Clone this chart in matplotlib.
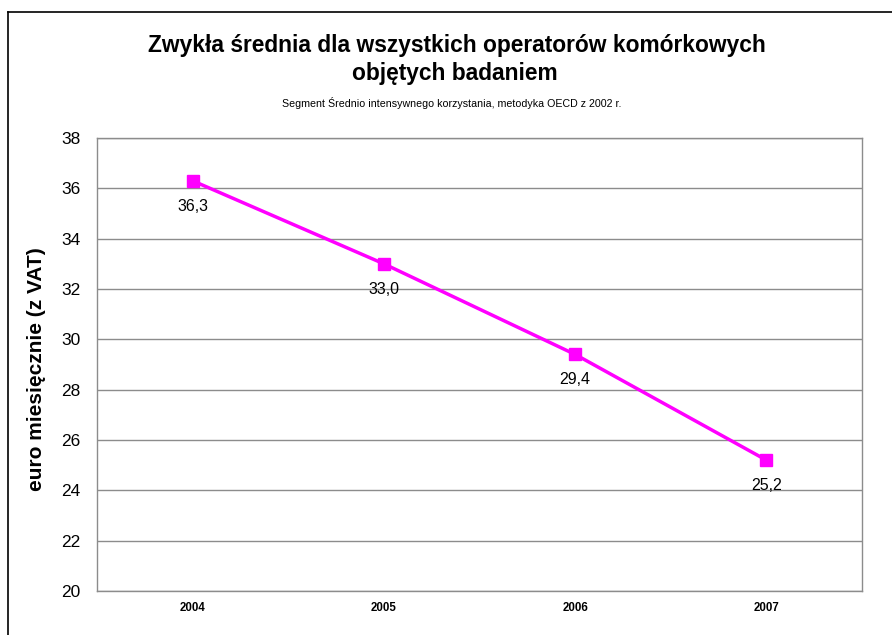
import matplotlib.pyplot as plt
from matplotlib.lines import Line2D

plt.rcParams['font.family'] = ['Liberation Sans', 'DejaVu Sans']

# dane z wykresu
lata = ['2004', '2005', '2006', '2007']
wartosci = [36.3, 33.0, 29.4, 25.2]
etykiety = ['36,3', '33,0', '29,4', '25,2']
y_ticks = [20, 22, 24, 26, 28, 30, 32, 34, 36, 38]

W, H = 892, 635
fig = plt.figure(figsize=(W / 100, H / 100), dpi=100)
ax = fig.add_axes([97 / W, 1 - 591 / H, 765 / W, 453 / H])

x = list(range(len(lata)))
ax.plot(x, wartosci, color='#FF00FF', linewidth=2.5, marker='s',
        markersize=9, markerfacecolor='#FF00FF', markeredgecolor='#FF00FF')

for xi, v, lab in zip(x, wartosci, etykiety):
    ax.annotate(lab, (xi, v), xytext=(0, -13), textcoords='offset points',
                ha='center', va='top', fontsize=11.5)

ax.set_xlim(-0.5, len(lata) - 0.5)
ax.set_ylim(20, 38)
ax.set_yticks(y_ticks)
ax.set_yticklabels([str(t) for t in y_ticks], fontsize=12.5)
ax.set_xticks(x)
ax.set_xticklabels(lata, fontsize=8.3, fontweight='bold')
ax.tick_params(axis='y', length=0, pad=12)
ax.tick_params(axis='x', length=0, pad=8)

ax.grid(axis='y', color='#8c8c8c', linewidth=1)
ax.set_axisbelow(True)
for s in ax.spines.values():
    s.set_color('#8c8c8c')
    s.set_linewidth(1)

ax.set_ylabel('euro miesięcznie (z VAT)', fontsize=15, fontweight='bold')
ax.yaxis.set_label_coords(-0.067, 0.49)

fig.text(457 / W, 1 - 52 / H, 'Zwykła średnia dla wszystkich operatorów komórkowych',
         ha='center', va='baseline', fontsize=16.4, fontweight='bold')
fig.text(455 / W, 1 - 80 / H, 'objętych badaniem',
         ha='center', va='baseline', fontsize=16.4, fontweight='bold')
fig.text(452 / W, 1 - 107 / H, 'Segment Średnio intensywnego korzystania, metodyka OECD z 2002 r.',
         ha='center', va='baseline', fontsize=7.7,
         family=['Liberation Sans Narrow', 'Liberation Sans', 'DejaVu Sans'])

# ramka wykresu (widoczna tylko góra i lewa strona)
fig.add_artist(Line2D([8 / W, 1.0], [1 - 12 / H, 1 - 12 / H],
                      transform=fig.transFigure, color='black', linewidth=1.2))
fig.add_artist(Line2D([8 / W, 8 / W], [0.0, 1 - 12 / H],
                      transform=fig.transFigure, color='black', linewidth=1.2))

fig.savefig('out.png', dpi=100)
